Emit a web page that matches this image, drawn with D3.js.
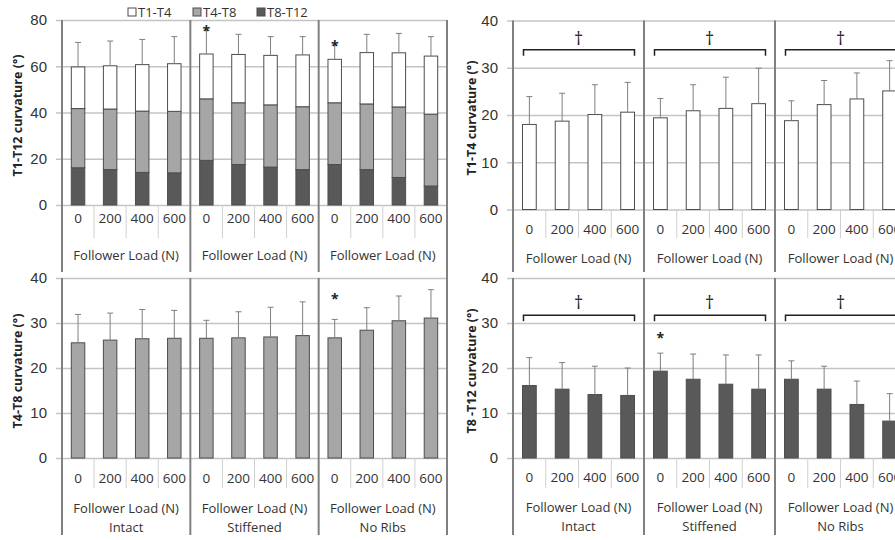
<!DOCTYPE html>
<html>
<head>
<meta charset="utf-8">
<script src="https://cdn.jsdelivr.net/npm/d3@7"></script>
<style>
  body { margin: 0; background: #fff; }
  svg { display: block; font-family: "Open Sans", sans-serif; }
</style>
</head>
<body>
<svg id="canvas" width="895" height="540"></svg>
<script>
// Specimen groups and follower load levels
const groups = ["Intact", "Stiffened", "No Ribs"];
const loads = ["0", "200", "400", "600"];

// Mean curvature (deg) per group, per load
const t1t4 = [[18.0, 18.7, 20.1, 20.6], [19.4, 20.9, 21.4, 22.4], [18.8, 22.2, 23.4, 25.1]];
const t4t8 = [[25.6, 26.2, 26.5, 26.6], [26.6, 26.7, 26.9, 27.2], [26.7, 28.4, 30.5, 31.1]];
const t8t12 = [[16.1, 15.3, 14.1, 13.9], [19.3, 17.5, 16.4, 15.3], [17.5, 15.3, 11.9, 8.2]];

// Standard deviations
const t1t4Sd = [[5.9, 5.9, 6.3, 6.3], [4.1, 5.5, 6.6, 7.5], [4.2, 5.1, 5.5, 6.4]];
const t4t8Sd = [[6.3, 6.0, 6.5, 6.2], [4.0, 5.8, 6.6, 7.5], [4.1, 5.0, 5.5, 6.3]];
const t8t12Sd = [[6.2, 5.9, 6.3, 6.1], [4.0, 5.6, 6.5, 7.6], [4.1, 5.1, 5.2, 6.1]];
const totalSd = [[10.6, 10.7, 10.9, 11.7], [10.3, 8.7, 8.1, 7.9], [6.2, 7.9, 8.4, 8.4]];

// Significance marks: asterisk [group, load, value]; dagger bracket [bracket value, dagger value]
const stackStars = [["Stiffened", "0", 77.8], ["No Ribs", "0", 71.0]];
const t4t8Stars = [["No Ribs", "0", 36.5]];
const t8t12Stars = [["Stiffened", "0", 27.8]];
const t1t4Bracket = [33.8, 36.3];
const t8t12Bracket = [31.7, 34.7];

const seriesKeys = ["t8t12", "t4t8", "t1t4"];
const seriesNames = { t1t4: "T1-T4", t4t8: "T4-T8", t8t12: "T8-T12" };
const colors = { t1t4: "#ffffff", t4t8: "#a6a6a6", t8t12: "#595959" };

const svg = d3.select("#canvas");

// Layout of the four panels
const panels = [
  { x0: 62, w: 385, top: 20, bottom: 205, max: 80, step: 20, catY: 218, sepEnd: 238, grpY: 255, end: 272,
    title: "T1-T12 curvature (°)", titleX: 18, stacked: true, stars: stackStars },
  { x0: 513, w: 393, top: 20.5, bottom: 209.5, max: 40, step: 10, catY: 229, sepEnd: 238, grpY: 258, end: 272,
    title: "T1-T4 curvature (°)", titleX: 472, key: "t1t4", values: t1t4, sd: t1t4Sd, stars: [], bracket: t1t4Bracket },
  { x0: 62, w: 385, top: 278, bottom: 458, max: 40, step: 10, catY: 478, sepEnd: 488, grpY: 508, end: 535,
    title: "T4-T8 curvature (°)", titleX: 18, key: "t4t8", values: t4t8, sd: t4t8Sd, stars: t4t8Stars, names: 527 },
  { x0: 513, w: 393, top: 278, bottom: 458, max: 40, step: 10, catY: 477, sepEnd: 488, grpY: 507, end: 535,
    title: "T8 -T12 curvature (°)", titleX: 472, key: "t8t12", values: t8t12, sd: t8t12Sd, stars: t8t12Stars, bracket: t8t12Bracket, names: 526 }
];

const drawPanel = (p) => {
  const g = svg.append("g");
  const y = d3.scaleLinear().domain([0, p.max]).range([p.bottom, p.top]);
  const gx = d3.scaleBand().domain(groups).range([p.x0, p.x0 + p.w]);
  const cx = d3.scaleBand().domain(loads).range([0, gx.bandwidth()]);
  const bw = cx.bandwidth() * 0.42;
  const barX = (grp, load) => gx(grp) + cx(load) + (cx.bandwidth() - bw) / 2;
  const midX = (grp, load) => gx(grp) + cx(load) + cx.bandwidth() / 2;

  // Gridlines and tick labels
  const axis = g.append("g")
    .attr("transform", `translate(${p.x0 - 6},0)`)
    .call(d3.axisLeft(y)
      .tickValues(d3.range(0, p.max + 1, p.step))
      .tickSize(-(p.w + 6))
      .tickPadding(9));
  axis.select(".domain").remove();
  axis.selectAll("line").attr("stroke", "#c4c4c4").attr("stroke-width", 1.5);
  axis.selectAll("text").attr("font-size", 15).attr("fill", "#333");

  // Bars
  if (p.stacked) {
    const rows = [];
    groups.forEach((grp, i) => loads.forEach((load, j) => {
      rows.push({ grp, load, t1t4: t1t4[i][j], t4t8: t4t8[i][j], t8t12: t8t12[i][j], sd: totalSd[i][j] });
    }));
    const stacked = d3.stack().keys(seriesKeys)(rows);
    g.selectAll("g.layer").data(stacked).enter().append("g")
      .attr("fill", (d) => colors[d.key])
      .selectAll("rect").data((d) => d).enter().append("rect")
      .attr("x", (d) => barX(d.data.grp, d.data.load))
      .attr("width", bw)
      .attr("y", (d) => y(d[1]))
      .attr("height", (d) => y(d[0]) - y(d[1]))
      .attr("stroke", "#4d4d4d")
      .attr("stroke-width", 1);
    const last = stacked[stacked.length - 1];
    drawErrors(g, last.map((d) => ({ x: midX(d.data.grp, d.data.load), y1: y(d[1]), y2: y(d[1] + d.data.sd) })));
  } else {
    const rows = [];
    groups.forEach((grp, i) => loads.forEach((load, j) => {
      rows.push({ grp, load, v: p.values[i][j], sd: p.sd[i][j] });
    }));
    g.selectAll("rect.bar").data(rows).enter().append("rect")
      .attr("x", (d) => barX(d.grp, d.load))
      .attr("width", bw)
      .attr("y", (d) => y(d.v))
      .attr("height", (d) => y(0) - y(d.v))
      .attr("fill", colors[p.key])
      .attr("stroke", "#4d4d4d")
      .attr("stroke-width", 1);
    drawErrors(g, rows.map((d) => ({ x: midX(d.grp, d.load), y1: y(d.v), y2: y(d.v + d.sd) })));
  }

  // Asterisks
  g.selectAll("text.star").data(p.stars).enter().append("text")
    .attr("x", (d) => midX(d[0], d[1]))
    .attr("y", (d) => y(d[2]))
    .attr("dy", "0.75em")
    .attr("text-anchor", "middle")
    .attr("font-size", 14)
    .attr("font-weight", "bold")
    .attr("fill", "#222")
    .text("*");

  // Brackets with dagger
  if (p.bracket) {
    groups.forEach((grp) => {
      const xa = barX(grp, loads[0]) + 1;
      const xb = barX(grp, loads[3]) + bw;
      const yb = y(p.bracket[0]);
      g.append("path")
        .attr("d", `M${xa},${yb + 6}V${yb}H${xb}V${yb + 6}`)
        .attr("fill", "none")
        .attr("stroke", "#222")
        .attr("stroke-width", 1.5);
      g.append("text")
        .attr("x", gx(grp) + gx.bandwidth() / 2)
        .attr("y", y(p.bracket[1]))
        .attr("dy", "0.4em")
        .attr("text-anchor", "middle")
        .attr("font-size", 18)
        .attr("fill", "#222")
        .text("†");
    });
  }

  // Category separators and labels
  groups.forEach((grp) => {
    loads.forEach((load, j) => {
      if (j > 0) {
        g.append("line")
          .attr("x1", gx(grp) + cx(load)).attr("x2", gx(grp) + cx(load))
          .attr("y1", p.bottom).attr("y2", p.sepEnd)
          .attr("stroke", "#d0d0d0").attr("stroke-width", 1);
      }
      g.append("text")
        .attr("x", midX(grp, load))
        .attr("y", p.catY)
        .attr("dy", "0.35em")
        .attr("text-anchor", "middle")
        .attr("font-size", 13.5)
        .attr("fill", "#333")
        .text(load);
    });
    g.append("text")
      .attr("x", gx(grp) + gx.bandwidth() / 2)
      .attr("y", p.grpY)
      .attr("dy", "0.35em")
      .attr("text-anchor", "middle")
      .attr("font-size", 13)
      .attr("fill", "#333")
      .text("Follower Load (N)");
    if (p.names) {
      g.append("text")
        .attr("x", gx(grp) + gx.bandwidth() / 2)
        .attr("y", p.names)
        .attr("dy", "0.35em")
        .attr("text-anchor", "middle")
        .attr("font-size", 13)
        .attr("fill", "#333")
        .text(grp);
    }
  });

  // Group dividers
  const edges = groups.map((grp) => gx(grp)).concat([p.x0 + p.w]);
  g.selectAll("line.div").data(edges).enter().append("line")
    .attr("x1", (d) => d).attr("x2", (d) => d)
    .attr("y1", p.top).attr("y2", p.end)
    .attr("stroke", "#808080").attr("stroke-width", 2);

  // Axis title
  g.append("text")
    .attr("transform", `translate(${p.titleX},${(p.top + p.bottom) / 2 + 3}) rotate(-90)`)
    .attr("dy", "0.35em")
    .attr("text-anchor", "middle")
    .attr("font-size", 12.5)
    .attr("font-weight", "bold")
    .attr("fill", "#222")
    .text(p.title);
};

const drawErrors = (g, list) => {
  const e = g.append("g").attr("stroke", "#7f7f7f").attr("stroke-width", 1);
  e.selectAll("line.v").data(list).enter().append("line")
    .attr("x1", (d) => d.x).attr("x2", (d) => d.x)
    .attr("y1", (d) => d.y1).attr("y2", (d) => d.y2);
  e.selectAll("line.c").data(list).enter().append("line")
    .attr("x1", (d) => d.x - 3).attr("x2", (d) => d.x + 3)
    .attr("y1", (d) => d.y2).attr("y2", (d) => d.y2);
};

panels.forEach(drawPanel);

// Frame line between the two columns
svg.append("line")
  .attr("x1", 447).attr("x2", 447).attr("y1", 20).attr("y2", 535)
  .attr("stroke", "#808080").attr("stroke-width", 2);

// Legend
const legendItems = [["t1t4", 128], ["t4t8", 193], ["t8t12", 257]];
const legend = svg.append("g");
legendItems.forEach(([key, x]) => {
  legend.append("rect")
    .attr("x", x).attr("y", 8).attr("width", 8).attr("height", 8)
    .attr("fill", colors[key]).attr("stroke", "#4d4d4d").attr("stroke-width", 1);
  legend.append("text")
    .attr("x", x + 10).attr("y", 12).attr("dy", "0.35em")
    .attr("font-size", 13).attr("fill", "#333")
    .text(seriesNames[key]);
});
</script>
</body>
</html>
